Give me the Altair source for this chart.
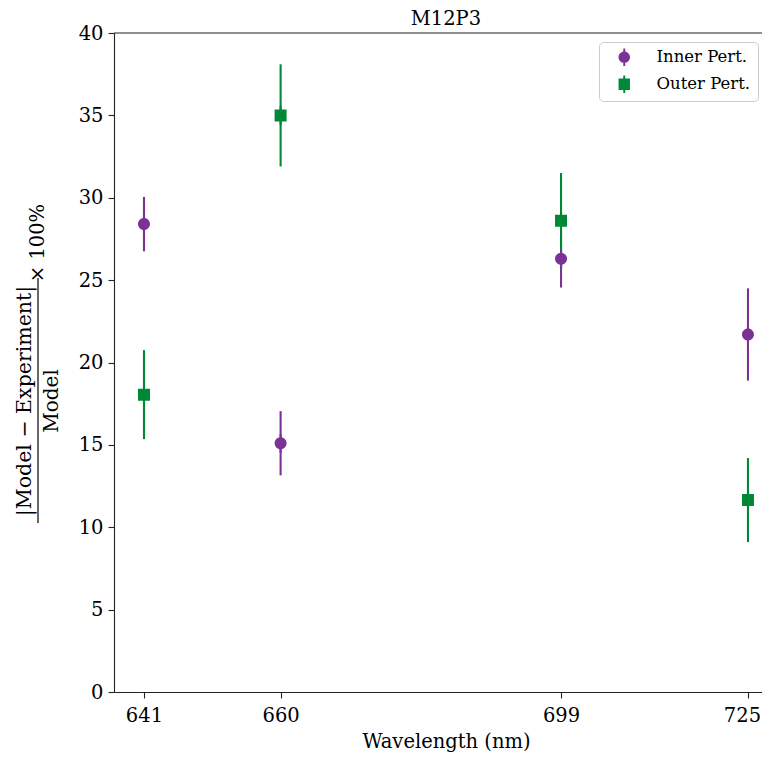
import altair as alt
import pandas as pd

# ---- data ----
wavelengths = [641, 660, 699, 725]
series_names = ["Inner Pert.", "Outer Pert."]
inner_vals = [28.4, 15.1, 26.3, 21.7]
inner_err = [1.65, 1.95, 1.75, 2.8]
outer_vals = [18.05, 35.0, 28.6, 11.65]
outer_err = [2.7, 3.1, 2.9, 2.55]
x_ticks = [641, 660, 699, 725]
y_ticks = [0, 5, 10, 15, 20, 25, 30, 35, 40]
colors = ["#7b3294", "#008837"]

# marker shapes with a short error-bar stroke (matplotlib-style legend handles)
CIRCLE_BAR = ("M -1 0 A 1 1 0 1 1 1 0 A 1 1 0 1 1 -1 0 Z "
              "M -0.17 -1.55 L 0.17 -1.55 L 0.17 1.55 L -0.17 1.55 Z")
SQUARE_BAR = ("M -1 -1 L 1 -1 L 1 1 L -1 1 Z "
              "M -0.17 -1.55 L 0.17 -1.55 L 0.17 1.55 L -0.17 1.55 Z")
shapes = [CIRCLE_BAR, SQUARE_BAR]

rows = []
for name, vals, errs in [(series_names[0], inner_vals, inner_err),
                         (series_names[1], outer_vals, outer_err)]:
    for w, v, e in zip(wavelengths, vals, errs):
        rows.append({"series": name, "wl": w, "val": v, "err": e})
df = pd.DataFrame(rows)

FONT = "DejaVu Serif"
W, H = 648, 659

xscale = alt.Scale(domain=[636.83, 726.95], nice=False, zero=False)
yscale = alt.Scale(domain=[0, 40], nice=False, zero=False)

color = alt.Color("series:N",
                  scale=alt.Scale(domain=series_names, range=colors),
                  legend=alt.Legend(title=None, orient="none", legendX=485, legendY=9,
                                    fillColor="white", strokeColor="#cccccc",
                                    cornerRadius=4, padding=7, symbolOffset=10,
                                    labelFont=FONT, labelFontSize=16.5,
                                    labelOffset=24, rowPadding=8,
                                    symbolSize=130, symbolStrokeWidth=0))

base = alt.Chart(df).transform_calculate(
    lo="datum.val - datum.err", hi="datum.val + datum.err")

xaxis = alt.Axis(values=x_ticks, title="Wavelength (nm)", titleX=332,
                 titlePadding=8, labelPadding=8, tickSize=6, grid=False,
                 labelOffset={"condition": {"test": "datum.value == 725", "value": -6},
                              "value": 0})
yaxis = alt.Axis(values=y_ticks, title="", labelPadding=5, tickSize=6, grid=False)

bars = base.mark_rule(strokeWidth=2.1).encode(
    x=alt.X("wl:Q", scale=xscale, axis=xaxis),
    y=alt.Y("lo:Q", scale=yscale, axis=yaxis),
    y2="hi:Q",
    color=color,
)

points = base.mark_point(filled=True, opacity=1, size=144).encode(
    x=alt.X("wl:Q", scale=xscale, axis=xaxis),
    y=alt.Y("val:Q", scale=yscale, axis=yaxis),
    color=color,
    shape=alt.Shape("series:N", scale=alt.Scale(domain=series_names, range=shapes)),
)

deco = alt.Chart(pd.DataFrame({"a": [0]}))
top_spine = deco.mark_rule(color="#222222", strokeWidth=1.1).encode(
    x=alt.value(0), x2=alt.value(W), y=alt.value(0))

num = deco.mark_text(text="|Model − Experiment|", angle=270, font=FONT,
                     fontSize=20.5, align="center", baseline="middle", color="black").encode(
    x=alt.value(-89), y=alt.value(368))
den = deco.mark_text(text="Model", angle=270, font=FONT, fontSize=20,
                     align="center", baseline="middle", color="black").encode(
    x=alt.value(-62), y=alt.value(368))
frac_bar = deco.mark_rule(color="black", strokeWidth=1.2).encode(
    x=alt.value(-76), y=alt.value(245), y2=alt.value(490))
times = deco.mark_text(text="× 100%", angle=270, font=FONT, fontSize=19.5,
                       align="center", baseline="middle", color="black").encode(
    x=alt.value(-76), y=alt.value(210))

chart = alt.layer(bars, points, top_spine, num, den, frac_bar, times).properties(
    width=W, height=H,
    title=alt.TitleParams("M12P3", font=FONT, fontSize=19.5, fontWeight="normal",
                          dx=8, dy=12, offset=6, color="black"),
    autosize=alt.AutoSizeParams(type="none"),
    padding={"left": 106, "top": 25, "right": 0, "bottom": 60},
).configure_view(stroke=None).configure_axis(
    labelFont=FONT, labelFontSize=19.5, labelColor="black",
    titleFont=FONT, titleFontSize=19.5, titleFontWeight="normal", titleColor="black",
    domainColor="#222222", domainWidth=1.1, tickColor="#222222", tickWidth=1.1,
)

chart.save("out.html", embed_options={"renderer": "svg", "actions": False})
